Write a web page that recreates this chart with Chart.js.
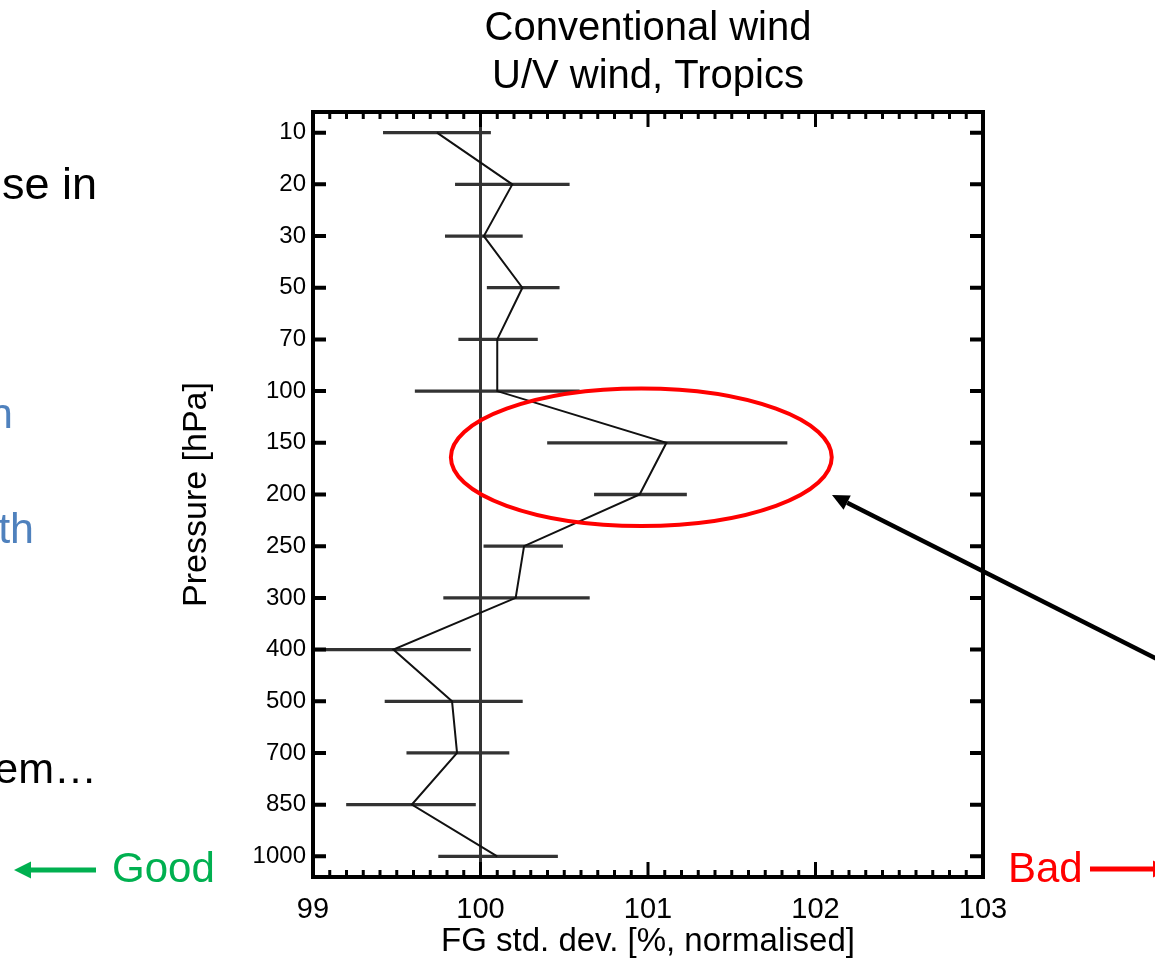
<!DOCTYPE html>
<html>
<head>
<meta charset="utf-8">
<script src="https://cdn.jsdelivr.net/npm/chart.js@4.4.0/dist/chart.umd.min.js"></script>
<style>
html, body { margin: 0; padding: 0; background: #fff; }
#wrap { position: relative; width: 1155px; height: 965px; overflow: hidden; }
#wrap canvas { position: absolute; left: 0; top: 0; }
.txt { position: absolute; font-family: "Liberation Sans", Arial, Helvetica, sans-serif; line-height: 1; white-space: nowrap; }
</style>
</head>
<body>
<div id="wrap">
  <canvas id="chart" width="1155" height="965"></canvas>
  <div class="txt" style="right:1058px; top:161px; font-size:45px; color:#000;">se in</div>
  <div class="txt" style="right:1142px; top:392px; font-size:43px; color:#4f81bd;">n</div>
  <div class="txt" style="right:1121px; top:507px; font-size:43px; color:#4f81bd;">th</div>
  <div class="txt" style="right:1058px; top:747px; font-size:43px; color:#000;">em…</div>
  <div class="txt" style="left:112px; top:847px; font-size:42px; color:#00b050;">Good</div>
  <div class="txt" style="left:1008px; top:847px; font-size:42px; color:#ff0000;">Bad</div>
</div>
<script>
// pressure levels (top to bottom) and normalised FG std. dev.
const levels = ['10', '20', '30', '50', '70', '100', '150', '200', '250', '300', '400', '500', '700', '850', '1000'];
const fgStdDev = [99.74, 100.19, 100.02, 100.25, 100.10, 100.10, 101.11, 100.95, 100.26, 100.21, 99.48, 99.83, 99.86, 99.59, 100.10];
const errLow = [99.42, 99.85, 99.79, 100.04, 99.87, 99.61, 100.40, 100.68, 100.02, 99.78, 98.95, 99.43, 99.56, 99.20, 99.75];
const errHigh = [100.06, 100.53, 100.25, 100.47, 100.34, 100.59, 101.83, 101.23, 100.49, 100.65, 99.94, 100.25, 100.17, 99.97, 100.46];
const xTicks = [99, 100, 101, 102, 103];
const refValue = 100;

const family = '"Liberation Sans", Arial, Helvetica, sans-serif';
Chart.defaults.font.family = family;
Chart.defaults.color = '#000';

let profile = fgStdDev.map((v, i) => ({x: v, y: i}));
let bars = levels.map((l, i) => ({y: i, x: [errLow[i], errHigh[i]]}));
let refLine = [{x: refValue, y: -0.4}, {x: refValue, y: levels.length - 0.6}];

function arrow(ctx, x1, y1, x2, y2, width, headLen, headHalf, color) {
    let ang = Math.atan2(y2 - y1, x2 - x1);
    let bx = x2 - Math.cos(ang) * headLen;
    let by = y2 - Math.sin(ang) * headLen;
    ctx.strokeStyle = color;
    ctx.fillStyle = color;
    ctx.lineWidth = width;
    ctx.beginPath();
    ctx.moveTo(x1, y1);
    ctx.lineTo(bx, by);
    ctx.stroke();
    ctx.beginPath();
    ctx.moveTo(x2, y2);
    ctx.lineTo(bx + Math.sin(ang) * headHalf, by - Math.cos(ang) * headHalf);
    ctx.lineTo(bx - Math.sin(ang) * headHalf, by + Math.cos(ang) * headHalf);
    ctx.closePath();
    ctx.fill();
}

// IDL style box with inward ticks, plus the slide annotations
const framePlugin = {
    id: 'frame',
    afterDatasetsDraw(chart) {
        const {ctx, chartArea: a, scales: {x, y}} = chart;
        ctx.save();
        ctx.lineCap = 'butt';

        // red ellipse round the 150-200 hPa peak
        let cx = x.getPixelForValue(100.96), cy = y.getPixelForValue(6.28);
        let rx = x.getPixelForValue(102.097) - cx, ry = y.getPixelForValue(7.61) - cy;
        ctx.strokeStyle = '#ff0000';
        ctx.lineWidth = 4;
        ctx.beginPath();
        ctx.ellipse(cx, cy, rx, ry, 0, 0, Math.PI * 2);
        ctx.stroke();

        ctx.strokeStyle = '#000';
        ctx.lineWidth = 4;
        levels.forEach((l, i) => {
            let py = y.getPixelForValue(i);
            ctx.beginPath();
            ctx.moveTo(a.left, py); ctx.lineTo(a.left + 13, py);
            ctx.moveTo(a.right - 13, py); ctx.lineTo(a.right, py);
            ctx.stroke();
        });
        ctx.lineWidth = 3;
        for (let k = 0; k <= 40; k++) {
            let px = x.getPixelForValue(xTicks[0] + k / 10);
            let len = k % 10 === 0 ? 15 : 7;
            ctx.beginPath();
            ctx.moveTo(px, a.bottom); ctx.lineTo(px, a.bottom - len);
            ctx.moveTo(px, a.top); ctx.lineTo(px, a.top + len);
            ctx.stroke();
        }
        ctx.lineWidth = 4;
        ctx.strokeRect(a.left, a.top, a.width, a.height);

        // pointer arrow and good / bad arrows
        arrow(ctx, 1165, 663, 832, 495, 4.5, 17, 8, '#000');
        arrow(ctx, 96, 870, 14, 870, 5, 17, 8.5, '#00b050');
        arrow(ctx, 1090, 869, 1170, 869, 5, 17, 8.5, '#ff0000');
        ctx.restore();
    }
};

let config = {
    type: 'line',
    data: {
        datasets: [{
            data: refLine,
            borderColor: '#333',
            borderWidth: 3,
            pointRadius: 0,
            order: 3
        }, {
            type: 'bar',
            indexAxis: 'y',
            data: bars,
            backgroundColor: '#333',
            borderWidth: 0,
            barThickness: 2.6,
            order: 2
        }, {
            data: profile,
            borderColor: '#111',
            borderWidth: 2,
            pointRadius: 0,
            tension: 0,
            order: 1
        }]
    },
    options: {
        responsive: false,
        animation: false,
        layout: {
            padding: {left: 176, right: 172, top: 0, bottom: 0}
        },
        plugins: {
            legend: {display: false},
            tooltip: {enabled: false},
            title: {
                display: true,
                fullSize: false,
                text: ['Conventional wind', 'U/V wind, Tropics'],
                color: '#000',
                font: {size: 40, weight: 'normal', lineHeight: 1.2},
                padding: {top: 5, bottom: 11}
            }
        },
        scales: {
            x: {
                type: 'linear',
                min: 99,
                max: 103,
                offset: false,
                afterFit: s => { s.height = 88; },
                grid: {display: false, drawTicks: false},
                border: {display: false},
                ticks: {
                    stepSize: 1,
                    padding: 16,
                    font: {size: 29},
                    callback: v => xTicks.includes(v) ? String(v) : ''
                },
                title: {
                    display: true,
                    text: 'FG std. dev. [%, normalised]',
                    font: {size: 33},
                    padding: {top: 0, bottom: 3}
                }
            },
            y: {
                type: 'linear',
                reverse: true,
                offset: false,
                min: -0.4,
                max: levels.length - 0.6,
                afterFit: s => { s.width = 137; },
                grid: {display: false, drawTicks: false},
                border: {display: false},
                ticks: {
                    stepSize: 1,
                    includeBounds: false,
                    padding: 7,
                    font: {size: 24},
                    callback: v => levels[v] !== undefined ? levels[v] : ''
                },
                title: {
                    display: true,
                    text: 'Pressure [hPa]',
                    font: {size: 34},
                    padding: 0
                }
            }
        }
    },
    plugins: [framePlugin]
};

let chart = new Chart(document.getElementById('chart').getContext('2d'), config);
</script>
</body>
</html>
